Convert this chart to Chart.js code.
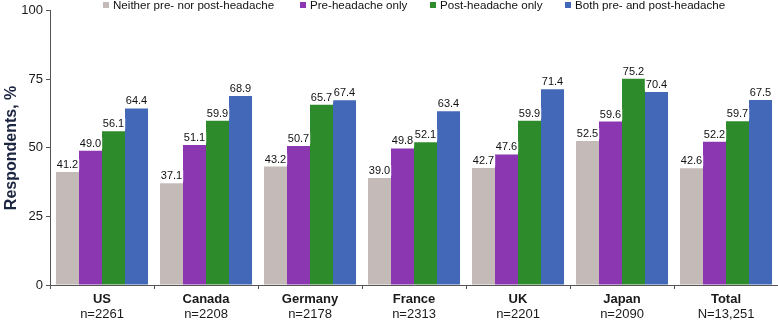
<!DOCTYPE html>
<html>
<head>
<meta charset="utf-8">
<script src="https://cdn.jsdelivr.net/npm/chart.js@4.4.1/dist/chart.umd.min.js"></script>
<style>
  html, body { margin: 0; padding: 0; background: #fff; }
  #wrap { position: relative; width: 778px; height: 321px; }
  #legend { position: absolute; left: 0; top: -1px; width: 778px; height: 14px; font-family: "Liberation Sans", Arial, sans-serif; font-size: 11.6px; color: #111; }
  .li { position: absolute; top: 0; white-space: nowrap; line-height: 12px; }
  .sw { display: inline-block; width: 6px; height: 6px; margin-right: 4px; vertical-align: 1px; }
</style>
</head>
<body>
<div id="wrap">
  <canvas id="c" width="778" height="321"></canvas>
  <div id="legend"></div>
</div>
<script>
const categories = ["US", "Canada", "Germany", "France", "UK", "Japan", "Total"];
const sampleSizes = ["n=2261", "n=2208", "n=2178", "n=2313", "n=2201", "n=2090", "N=13,251"];
const seriesNames = ["Neither pre- nor post-headache", "Pre-headache only", "Post-headache only", "Both pre- and post-headache"];
const neither = [41.2, 37.1, 43.2, 39.0, 42.7, 52.5, 42.6];
const preOnly = [49.0, 51.1, 50.7, 49.8, 47.6, 59.6, 52.2];
const postOnly = [56.1, 59.9, 65.7, 52.1, 59.9, 75.2, 59.7];
const both = [64.4, 68.9, 67.4, 63.4, 71.4, 70.4, 67.5];
const yTicks = [0, 25, 50, 75, 100];

const colors = ["#C4BBB9", "#8C37B2", "#2E8B2C", "#4268B7"];
const legendLeft = [103, 300, 430, 565];

const FONT = "'Liberation Sans', Arial, sans-serif";

// HTML legend
const lg = document.getElementById('legend');
seriesNames.forEach((n, i) => {
  const d = document.createElement('div');
  d.className = 'li';
  d.style.left = legendLeft[i] + 'px';
  const s = document.createElement('span');
  s.className = 'sw';
  s.style.background = colors[i];
  d.appendChild(s);
  d.appendChild(document.createTextNode(n));
  lg.appendChild(d);
});

const valueLabels = {
  id: 'valueLabels',
  afterDatasetsDraw(chart) {
    const ctx = chart.ctx;
    ctx.save();
    ctx.font = "11px " + FONT;
    ctx.textAlign = 'center';
    ctx.textBaseline = 'alphabetic';
    chart.data.datasets.forEach((ds, di) => {
      const meta = chart.getDatasetMeta(di);
      meta.data.forEach((bar, i) => {
        const txt = ds.data[i].toFixed(1);
        const w = ctx.measureText(txt).width;
        const by = bar.y - 4;
        ctx.fillStyle = '#fff';
        ctx.fillRect(bar.x - w / 2 - 1, by - 9, w + 2, 11);
        ctx.fillStyle = '#111';
        ctx.fillText(txt, bar.x, by);
      });
    });
    ctx.restore();
  }
};

const series = [neither, preOnly, postOnly, both];

new Chart(document.getElementById('c'), {
  type: 'bar',
  data: {
    labels: categories,
    datasets: series.map((d, i) => ({
      label: seriesNames[i],
      data: d,
      backgroundColor: colors[i],
      borderWidth: 0,
      categoryPercentage: 0.885,
      barPercentage: 1.0,
      xAxisID: 'x'
    }))
  },
  options: {
    responsive: false,
    animation: false,
    layout: { padding: { top: 10, right: 0, left: 0, bottom: 0 } },
    plugins: {
      legend: { display: false },
      tooltip: { enabled: false }
    },
    scales: {
      x: {
        type: 'category',
        position: 'bottom',
        offset: true,
        grid: { display: true, drawOnChartArea: false, offset: true, drawTicks: true, tickLength: 4, color: '#555' },
        border: { display: true, color: '#555', width: 1 },
        ticks: { font: { family: FONT, size: 13, weight: 'bold' }, color: '#1a1a1a', padding: 3, maxRotation: 0, autoSkip: false },
        afterFit(s) { s.height = 21; }
      },
      x2: {
        type: 'category',
        position: 'bottom',
        labels: sampleSizes,
        offset: true,
        grid: { display: false, drawTicks: false },
        border: { display: false },
        ticks: { font: { family: FONT, size: 13 }, color: '#1a1a1a', padding: 1, maxRotation: 0, autoSkip: false },
        afterFit(s) { s.height = 15; }
      },
      y: {
        min: 0,
        max: 100,
        afterBuildTicks(s) { s.ticks = yTicks.map(v => ({ value: v })); },
        grid: { display: true, drawOnChartArea: false, drawTicks: true, tickLength: 4, color: '#555' },
        border: { display: true, color: '#555', width: 1 },
        ticks: { font: { family: FONT, size: 13 }, color: '#1a1a1a', padding: 3 },
        title: { display: true, text: 'Respondents, %', font: { family: FONT, size: 16, weight: 'bold' }, color: '#1c2540', padding: { top: 2, bottom: 0 } },
        afterFit(s) { s.width = 50; }
      }
    }
  },
  plugins: [valueLabels]
});
</script>
</body>
</html>
